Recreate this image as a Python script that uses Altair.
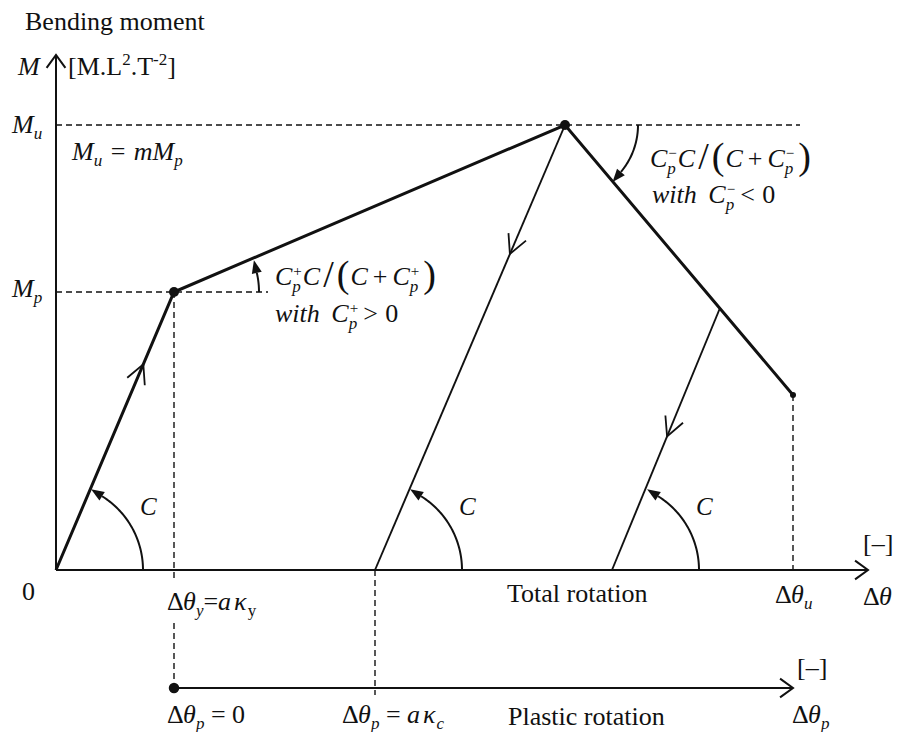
import numpy as np
import pandas as pd
import altair as alt

# ---- moment-rotation law (rotation, moment) in diagram units ----
theta_y, M_p = 118, 278          # yield point
theta_m, M_u = 509, 445          # ultimate moment
theta_u, M_end = 737, 175        # end of the softening branch
# unloading branches with slope C
unload_start_theta = [509, 664]
unload_start_M = [445, 262]
unload_end_theta = [319, 556]
# where the open direction arrows sit along each branch (fraction from start)
arrow_frac_loading = 0.74
arrow_frac_unload = [0.29, 0.49]
# axes
x_axis_end = 812
y_axis_end = 515
plastic_axis_M = -118
plastic_axis_end = 737

FONT = "Liberation Serif"
BLACK = "#111111"

xs = alt.Scale(domain=[-56, 850], nice=False, zero=False)
ys = alt.Scale(domain=[-162, 570], nice=False, zero=False)


def unit(v):
    v = np.asarray(v, dtype=float)
    return v / np.hypot(*v)


def rot(v, deg):
    a = np.radians(deg)
    return np.array([v[0] * np.cos(a) - v[1] * np.sin(a),
                     v[0] * np.sin(a) + v[1] * np.cos(a)])


def chevron(tip, direction, length, half):
    d = unit(direction)
    tip = np.asarray(tip, dtype=float)
    a1 = tip - length * rot(d, half)
    a2 = tip - length * rot(d, -half)
    return [tuple(a1), tuple(tip), tuple(a2)]


def arc(center, r, a0, a1, n=48):
    t = np.radians(np.linspace(a0, a1, n))
    return [(center[0] + r * np.cos(v), center[1] + r * np.sin(v)) for v in t]


def to_df(polylines):
    rows = []
    for s, pts in enumerate(polylines):
        for i, (x, y) in enumerate(pts):
            rows.append(dict(seg=s, i=i, theta=x, M=y))
    return pd.DataFrame(rows)


def line_layer(polylines, width, dash=None):
    kw = dict(color=BLACK, strokeWidth=width, strokeCap="butt", strokeJoin="miter")
    if dash:
        kw["strokeDash"] = dash
    return alt.Chart(to_df(polylines)).mark_line(**kw).encode(
        x=alt.X("theta:Q", scale=xs, axis=None),
        y=alt.Y("M:Q", scale=ys, axis=None),
        detail="seg:N",
        order="i:Q",
    )


# envelope: elastic, hardening, softening
envelope = [[(0, 0), (theta_y, M_p), (theta_m, M_u), (theta_u, M_end)]]

# unloading branches
unload = [[(t0, m0), (t1, 0)] for t0, m0, t1 in
          zip(unload_start_theta, unload_start_M, unload_end_theta)]

# open arrows on the branches
branch_arrows = []
p = np.array([theta_y, M_p]) * arrow_frac_loading
branch_arrows.append(chevron(p, (theta_y, M_p), 21, 27))
for (a, b), f in zip(unload, arrow_frac_unload):
    a, b = np.array(a, float), np.array(b, float)
    branch_arrows.append(chevron(a + f * (b - a), b - a, 21, 27))

# axes and their arrows
axes = [
    [(0, 0), (x_axis_end, 0)],
    [(0, 0), (0, y_axis_end)],
    [(theta_y, plastic_axis_M), (plastic_axis_end, plastic_axis_M)],
]
axis_arrows = [
    chevron((x_axis_end, 0), (1, 0), 16, 36),
    chevron((0, y_axis_end), (0, 1), 16, 36),
    chevron((plastic_axis_end, plastic_axis_M), (1, 0), 16, 36),
]

# dashed guides
dashed = [
    [(0, M_u), (744, M_u)],
    [(0, M_p), (212, M_p)],
    [(theta_y, M_p), (theta_y, -12)],
    [(theta_y, -53), (theta_y, plastic_axis_M)],
    [(unload_end_theta[0], 0), (unload_end_theta[0], -125)],
    [(theta_u, M_end), (theta_u, 0)],
]

# stiffness arcs with filled arrowheads: (center, radius, start, end, sense)
arc_specs = [
    ((0, 0), 87, 0, 58, 1),
    ((unload_end_theta[0], 0), 87, 0, 58, 1),
    ((unload_end_theta[1], 0), 87, 0, 58, 1),
    ((theta_y, M_p), 85, 0, 13, 1),
    ((theta_m, M_u), 73, 0, -40, -1),
]
arcs, heads = [], []
HEAD_LEN = 13
for c, r, a0, a1, sense in arc_specs:
    arcs.append(arc(c, r, a0, a1))
    end = np.array([c[0] + r * np.cos(np.radians(a1)), c[1] + r * np.sin(np.radians(a1))])
    ang = a1 + 90 * sense
    d = np.array([np.cos(np.radians(ang)), np.sin(np.radians(ang))])
    ctr = end + d * HEAD_LEN / 2
    heads.append(dict(theta=ctr[0], M=ctr[1], angle=(90 - ang) % 360))
heads = pd.DataFrame(heads)

head_layer = alt.Chart(heads).mark_point(
    shape="M0,-1L0.78,1L-0.78,1Z", filled=True, color=BLACK, opacity=1,
    size=HEAD_LEN ** 2, strokeWidth=0,
).encode(
    x=alt.X("theta:Q", scale=xs, axis=None),
    y=alt.Y("M:Q", scale=ys, axis=None),
    angle=alt.Angle("angle:Q", scale=None),
)

# dots
dots = pd.DataFrame(dict(
    theta=[theta_y, theta_m, theta_u, theta_y],
    M=[M_p, M_u, M_end, plastic_axis_M],
    s=[100, 100, 36, 110],
))
dot_layer = alt.Chart(dots).mark_point(shape="circle", filled=True, color=BLACK, opacity=1).encode(
    x=alt.X("theta:Q", scale=xs, axis=None),
    y=alt.Y("M:Q", scale=ys, axis=None),
    size=alt.Size("s:Q", scale=None),
)

# ---- typesetting of labels ----
REG = {' ': 250, '[': 333, ']': 333, '.': 250, 'M': 889, 'L': 611, 'T': 611, '2': 500,
       '-': 333, '–': 500, '−': 564, '=': 564, '+': 564, '>': 564, '<': 564, '0': 500,
       '(': 333, ')': 333, '/': 278, 'Δ': 612, 'B': 667, 'e': 444, 'n': 500, 'd': 500,
       'i': 278, 'g': 500, 'm': 778, 'o': 500, 't': 278, 'r': 333, 'l': 278, 'c': 444,
       's': 389, 'P': 556, 'a': 444, 'h': 500, 'w': 722, 'u': 500, 'p': 500, 'y': 500}
ITA = {'M': 833, 'u': 500, 'm': 722, 'p': 500, 'C': 667, 'w': 667, 'i': 278, 't': 278,
       'h': 500, 'θ': 500, 'κ': 520, 'a': 500, 'y': 444, 'c': 444, ' ': 250}


def tw(s, size, ital):
    t = ITA if ital else REG
    return sum(t.get(ch, 500) for ch in s) / 1000 * size


SIZE = 26
SUB = 17
SP = 6.5   # a word space at the main size


def typeset(x, y, parts, size=SIZE):
    rows, cx = [], x
    for part in parts:
        kind = part[0]
        if kind in ("r", "i"):
            ital = kind == "i"
            rows.append(dict(theta=cx, M=y, text=part[1], size=size, italic=ital))
            cx += tw(part[1], size, ital)
        elif kind in ("sub", "subr"):
            ital = kind == "sub"
            rows.append(dict(theta=cx, M=y - 6, text=part[1], size=SUB, italic=ital))
            cx += tw(part[1], SUB, ital)
        elif kind == "sup":
            rows.append(dict(theta=cx, M=y + 10, text=part[1], size=SUB, italic=False))
            cx += tw(part[1], SUB, False)
        elif kind == "ss":
            rows.append(dict(theta=cx, M=y - 7, text=part[1], size=SUB, italic=True))
            rows.append(dict(theta=cx + 1, M=y + 9, text=part[2], size=SUB - 2, italic=False))
            cx += max(tw(part[1], SUB, True), tw(part[2], SUB - 2, False)) + 2
        elif kind == "big":
            rows.append(dict(theta=cx, M=y - 2, text=part[1], size=part[2], italic=False))
            cx += tw(part[1], part[2], False)
        elif kind == "gap":
            cx += part[1]
    return rows


def ratio_formula(x, y, sign):
    return typeset(x, y, [
        ("i", "C"), ("ss", "p", sign), ("i", "C"), ("gap", 3), ("big", "/", 38), ("gap", 3),
        ("big", "(", 38), ("gap", 1), ("i", "C"), ("gap", 5), ("r", "+"), ("gap", 5), ("i", "C"),
        ("ss", "p", sign), ("gap", 3), ("big", ")", 38),
    ])


labels = []
labels += typeset(-31, 540, [("r", "Bending moment")])
labels += typeset(-38, 495, [("i", "M")])
labels += typeset(12, 495, [("r", "[M.L"), ("sup", "2"), ("r", ".T"), ("sup", "-2"), ("r", "]")])
labels += typeset(-44, M_u - 8, [("i", "M"), ("sub", "u")])
labels += typeset(16, M_u - 35, [("i", "M"), ("sub", "u"), ("gap", SP + 2), ("r", "="), ("gap", SP + 2),
                                 ("i", "mM"), ("sub", "p")])
labels += typeset(-44, M_p - 5, [("i", "M"), ("sub", "p")])
labels += ratio_formula(219, 285, "+")
labels += typeset(219, 248, [("i", "with"), ("gap", SP + 5), ("i", "C"), ("ss", "p", "+"),
                             ("gap", 4), ("r", ">"), ("gap", SP + 1), ("r", "0")])
labels += ratio_formula(594, 403, "−")
labels += typeset(596, 367, [("i", "with"), ("gap", SP + 5), ("i", "C"), ("ss", "p", "−"),
                             ("gap", 4), ("r", "<"), ("gap", SP + 1), ("r", "0")])
labels += typeset(-34, -30, [("r", "0")])
labels += typeset(theta_y - 7, -40, [("r", "Δ"), ("i", "θ"), ("sub", "y"), ("r", "="), ("i", "a"),
                                     ("gap", 3), ("i", "κ"), ("subr", "y")])
labels += typeset(451, -32, [("r", "Total rotation")])
labels += typeset(theta_u - 18, -33, [("r", "Δ"), ("i", "θ"), ("sub", "u")])
labels += typeset(807, -35, [("r", "Δ"), ("i", "θ")])
labels += typeset(807, 18, [("r", "[–]")])
labels += typeset(741, -106, [("r", "[–]")])
labels += typeset(736, -153, [("r", "Δ"), ("i", "θ"), ("sub", "p")])
labels += typeset(theta_y - 7, -153, [("r", "Δ"), ("i", "θ"), ("sub", "p"), ("gap", SP),
                                      ("r", "="), ("gap", SP), ("r", "0")])
labels += typeset(unload_end_theta[0] - 33, -153, [("r", "Δ"), ("i", "θ"), ("sub", "p"), ("gap", SP),
                                                   ("r", "="), ("gap", SP), ("i", "a"), ("gap", 3),
                                                   ("i", "κ"), ("sub", "c")])
labels += typeset(452, -155, [("r", "Plastic rotation")])
for c in [0] + unload_end_theta:
    labels += typeset(c + 84, 55, [("i", "C")], size=25)

lab = pd.DataFrame(labels)


def text_layer(df, italic):
    kw = dict(align="left", baseline="alphabetic", font=FONT, color=BLACK)
    if italic:
        kw["fontStyle"] = "italic"
    return alt.Chart(df).mark_text(**kw).encode(
        x=alt.X("theta:Q", scale=xs, axis=None),
        y=alt.Y("M:Q", scale=ys, axis=None),
        text="text:N",
        size=alt.Size("size:Q", scale=None),
    )


chart = alt.layer(
    line_layer(dashed, 1.4, [6, 4]),
    line_layer(axes, 2.0),
    line_layer(axis_arrows, 2.0),
    line_layer(unload, 1.9),
    line_layer(branch_arrows, 1.8),
    line_layer(arcs, 2.0),
    line_layer(envelope, 3.0),
    head_layer,
    dot_layer,
    text_layer(lab[~lab["italic"]], False),
    text_layer(lab[lab["italic"]], True),
).properties(
    width=906, height=732, padding=0, autosize=alt.AutoSizeParams(type="none"),
    background="white",
).configure_view(stroke=None)

chart.save("out.html", embed_options={"renderer": "svg", "actions": False})
